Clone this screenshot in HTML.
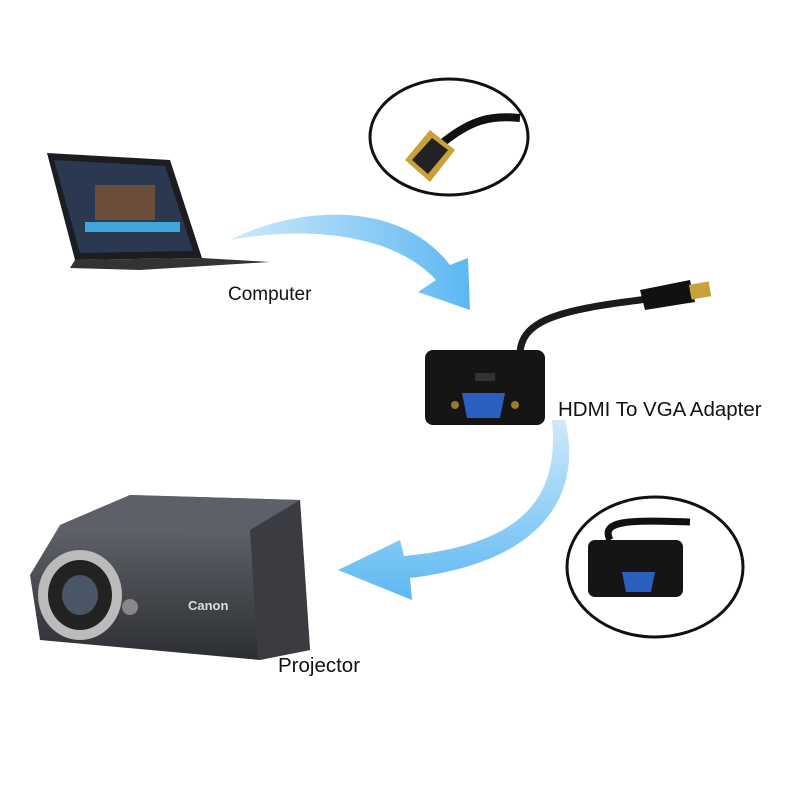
<!DOCTYPE html>
<html><head><meta charset="utf-8"><style>
html,body{margin:0;padding:0;background:#fff;}
svg{display:block;}
text{font-family:"Liberation Sans",sans-serif;}
</style></head><body>
<svg width="806" height="790" viewBox="0 0 806 790" xmlns="http://www.w3.org/2000/svg">
<defs>
<linearGradient id="blue" x1="0" y1="0" x2="1" y2="0">
<stop offset="0" stop-color="#cfe9fb"/><stop offset="1" stop-color="#5cb8f2"/></linearGradient>
<linearGradient id="blue2" x1="0" y1="0" x2="0" y2="1">
<stop offset="0" stop-color="#cfe9fb"/><stop offset="1" stop-color="#5cb8f2"/></linearGradient>
<linearGradient id="proj" x1="0" y1="0" x2="0" y2="1">
<stop offset="0" stop-color="#6b6e75"/><stop offset="1" stop-color="#2c2e33"/></linearGradient>
</defs>
<rect width="806" height="790" fill="#fff"/>

<path d="M230 240 C300 205 400 200 450 265 L468 258 L470 310 L418 292 L436 280 C395 235 310 225 230 240 Z" fill="url(#blue)"/>
<path d="M565 420 C580 480 560 560 410 578 L412 600 L338 570 L400 540 L404 556 C520 545 560 500 552 420 Z" fill="url(#blue2)"/>

<polygon points="47,153 170,160 202,258 75,260" fill="#1c1d22"/>
<polygon points="54,160 165,166 193,251 80,253" fill="#2a3850"/>
<rect x="95" y="185" width="60" height="35" fill="#6a4e3a"/>
<rect x="85" y="222" width="95" height="10" fill="#3fa8d8"/>
<polygon points="75,260 202,258 270,262 140,270 70,268" fill="#333"/>
<text x="228" y="300" font-size="19" fill="#111">Computer</text>

<ellipse cx="449" cy="137" rx="79" ry="58" fill="#fff" stroke="#111" stroke-width="3"/>
<path d="M440 145 C470 120 490 115 520 118" stroke="#111" stroke-width="8" fill="none"/>
<polygon points="405,160 430,130 455,150 430,182" fill="#c9a13a"/>
<polygon points="412,160 432,138 448,150 428,174" fill="#222"/>

<path d="M520 355 C520 320 560 310 640 300 L660 296" stroke="#1b1b1b" stroke-width="7" fill="none"/>
<polygon points="640,290 690,280 695,302 645,310" fill="#111"/>
<rect x="690" y="283" width="20" height="15" fill="#c9a13a" transform="rotate(-10 700 290)"/>
<rect x="425" y="350" width="120" height="75" rx="8" fill="#151515"/>
<rect x="475" y="373" width="20" height="8" fill="#333"/>
<polygon points="462,393 505,393 500,418 467,418" fill="#2a5fc0"/>
<circle cx="455" cy="405" r="4" fill="#9a7a30"/>
<circle cx="515" cy="405" r="4" fill="#9a7a30"/>
<text x="558" y="416" font-size="20.5" fill="#111">HDMI To VGA Adapter</text>

<ellipse cx="655" cy="567" rx="88" ry="70" fill="#fff" stroke="#111" stroke-width="3"/>
<path d="M610 540 C600 520 630 520 690 522" stroke="#111" stroke-width="7" fill="none"/>
<rect x="588" y="540" width="95" height="57" rx="7" fill="#151515"/>
<polygon points="622,572 655,572 651,592 626,592" fill="#2a5fc0"/>

<polygon points="60,525 130,495 300,500 310,650 260,660 40,640 30,575" fill="url(#proj)"/>
<polygon points="60,525 130,495 300,500 250,530" fill="#5d6068"/>
<polygon points="250,530 300,500 310,650 258,660" fill="#3a3c42"/>
<ellipse cx="80" cy="595" rx="42" ry="45" fill="#bbb"/>
<ellipse cx="80" cy="595" rx="32" ry="35" fill="#222"/>
<ellipse cx="80" cy="595" rx="18" ry="20" fill="#4a5566"/>
<text x="188" y="610" font-size="13" fill="#ddd" font-weight="bold">Canon</text>
<circle cx="130" cy="607" r="8" fill="#888"/>
<text x="278" y="672" font-size="20.5" fill="#111">Projector</text>
</svg>
</body></html>
